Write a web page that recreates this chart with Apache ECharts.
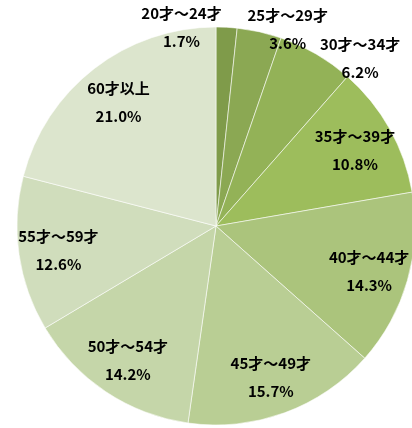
<html style="height: 100%">
<head>
	<meta charset="utf-8">
	<script type="text/javascript" src="https://cdn.jsdelivr.net/npm/echarts@6/dist/echarts.min.js"></script>
</head>

<body style="height: 100%; margin: 0; background: #fff">
	<div id="container" style="height:428px;width:412px"></div>
</body>

<script type="text/javascript">
	var dom = document.getElementById("container");
	var myChart = echarts.init(dom, null, { renderer: 'canvas' });

	// 年齢階層と構成比(%)
	let ageGroups = ['20才～24才', '25才～29才', '30才～34才', '35才～39才', '40才～44才',
		'45才～49才', '50才～54才', '55才～59才', '60才以上'];
	let shares = [1.7, 3.6, 6.2, 10.8, 14.3, 15.7, 14.2, 12.6, 21.0];
	let sliceColors = ['#7f9b4a', '#8ba853', '#93b257', '#9dbd5c', '#abc47c',
		'#b9ce94', '#c5d6a9', '#d0ddbc', '#dce5cd'];
	// 小さい扇形のラベルは外側へずらす
	let labelShift = [[-43, -40], [37, -41], [64, -30]];

	let R = 199;
	let C = [216, 226];

	let pieData = ageGroups.map((name, i) => ({
		name: name,
		value: shares[i],
		itemStyle: { color: sliceColors[i] }
	}));

	let labelData = ageGroups.map((name, i) => ({ name: name, value: shares[i] }));

	let option = {
		animation: false,
		series: [
			{
				type: 'pie',
				center: C,
				radius: [0, R],
				startAngle: 90,
				clockwise: true,
				silent: true,
				label: { show: false },
				labelLine: { show: false },
				itemStyle: {
					borderColor: 'rgba(255,255,255,0.7)',
					borderWidth: 0.8
				},
				data: pieData
			},
			{
				// ラベル用の透明リング（0.78R 付近に配置）
				type: 'pie',
				center: C,
				radius: [R * 0.57, R],
				startAngle: 90,
				clockwise: true,
				silent: true,
				avoidLabelOverlap: false,
				itemStyle: { color: 'rgba(0,0,0,0)' },
				label: {
					show: true,
					position: 'inside',
					color: '#000',
					fontFamily: '"Noto Sans CJK JP", sans-serif',
					fontWeight: 'bold',
					fontSize: 15,
					lineHeight: 28,
					formatter: function (p) {
						return p.name + '\n' + p.value.toFixed(1) + '%';
					}
				},
				labelLayout: function (p) {
					let s = labelShift[p.dataIndex];
					return {
						hideOverlap: false,
						moveOverlap: null,
						dx: s ? s[0] : 0,
						dy: s ? s[1] : 2
					};
				},
				labelLine: { show: false },
				data: labelData
			}
		]
	};

	myChart.setOption(option);
</script>

</html>
